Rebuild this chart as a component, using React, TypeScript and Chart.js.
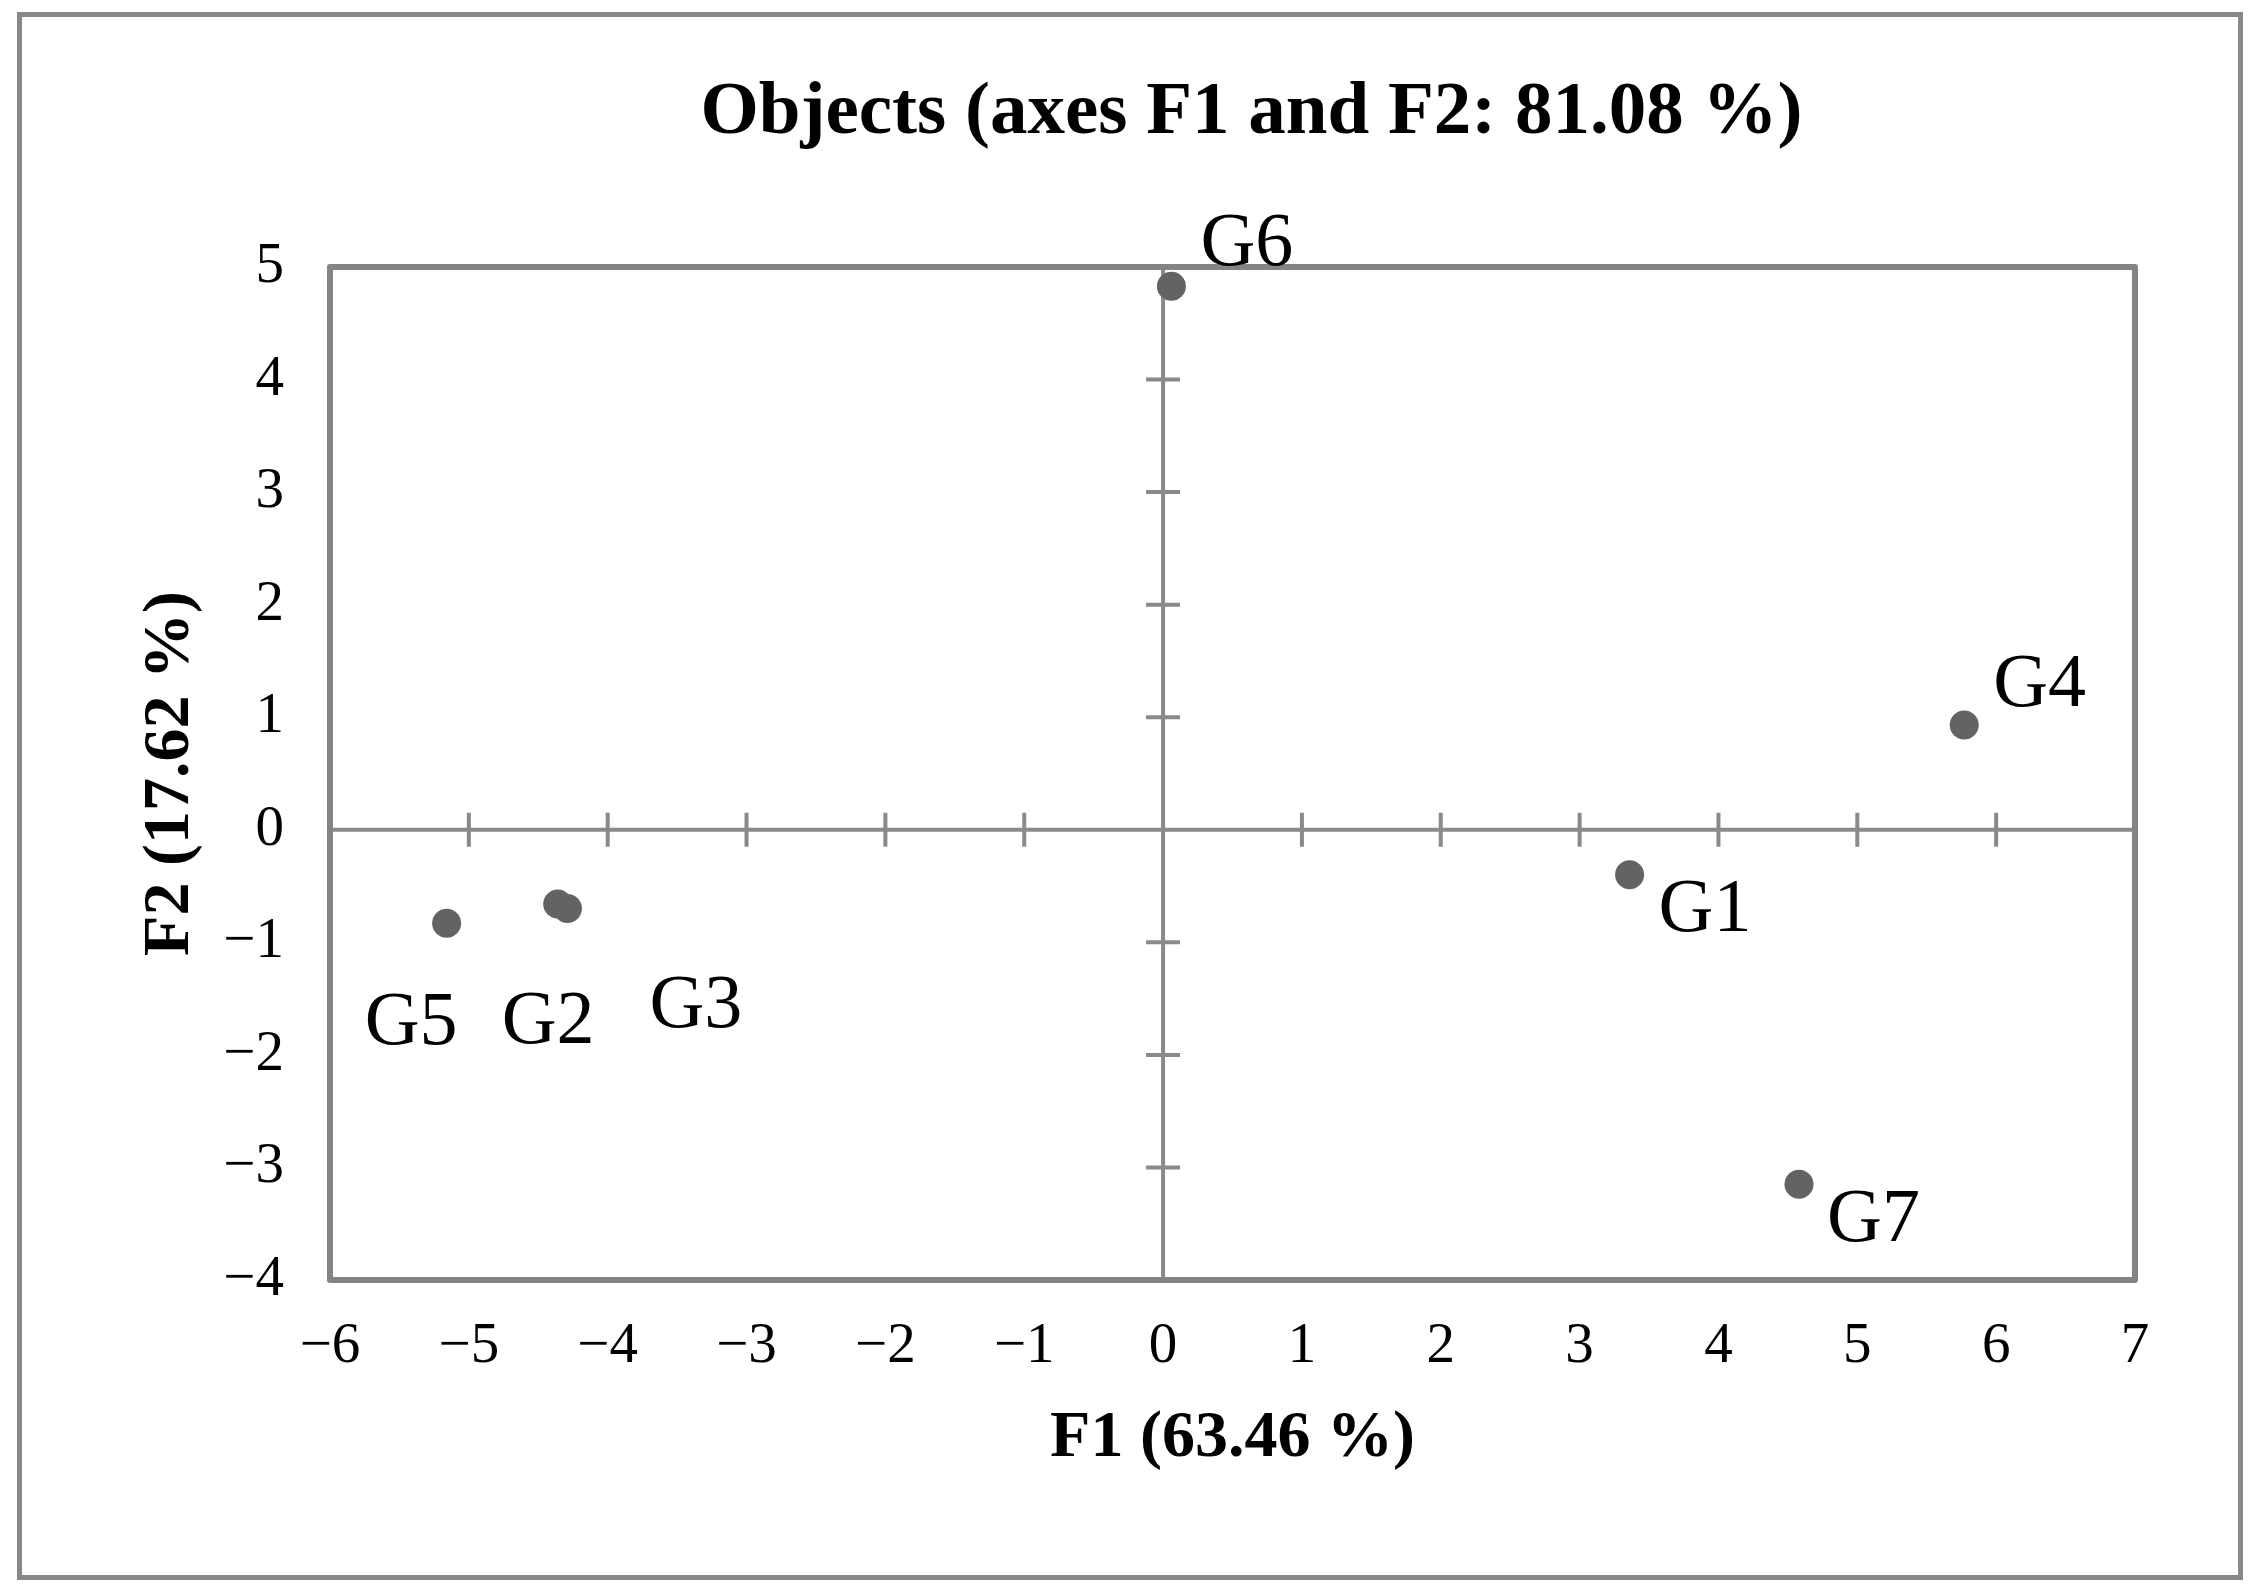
import React, { useEffect, useRef } from 'react';
import { Chart, registerables } from 'chart.js';

Chart.register(...registerables);

// ---- Data ----
const pointLabels = ['G1', 'G2', 'G3', 'G4', 'G5', 'G6', 'G7'];
const f1Values = [3.36, -4.36, -4.29, 5.77, -5.16, 0.06, 4.58];
const f2Values = [-0.4, -0.66, -0.7, 0.93, -0.83, 4.83, -3.15];
const xTickValues = [-6, -5, -4, -3, -2, -1, 0, 1, 2, 3, 4, 5, 6, 7];
const yTickValues = [-4, -3, -2, -1, 0, 1, 2, 3, 4, 5];
const chartTitle = 'Objects (axes F1 and F2: 81.08 %)';
const xAxisTitle = 'F1 (63.46 %)';
const yAxisTitle = 'F2 (17.62 %)';

const SERIF = "'Liberation Serif', 'Times New Roman', serif";
const W = 2263;
const H = 1594;

const fmtTick = (v: number | string) => {
  const n = Number(v);
  return n < 0 ? '\u2212' + Math.abs(n) : String(n);
};

// label placement relative to each point (text left x, baseline y)
const labelOffsets: Record<string, [number, number]> = {
  G1: [29, 56],
  G2: [-56, 139],
  G3: [82, 118],
  G4: [29, -19],
  G5: [-82, 121],
  G6: [29, -21],
  G7: [28, 57],
};

const TITLE_SHIFT = 19;

const decorPlugin = {
  id: 'decor',
  afterLayout(chart: any) {
    const tb = chart.titleBlock;
    if (tb) {
      tb.left += TITLE_SHIFT;
      tb.right += TITLE_SHIFT;
    }
  },
  beforeDraw(chart: any) {
    const ctx = chart.ctx;
    ctx.save();
    ctx.fillStyle = '#ffffff';
    ctx.fillRect(0, 0, chart.width, chart.height);
    ctx.strokeStyle = '#888888';
    ctx.lineWidth = 5;
    ctx.strokeRect(19.5, 14.5, 2221, 1563);
    ctx.restore();
  },
  beforeDatasetsDraw(chart: any) {
    const ctx = chart.ctx;
    const { left, right, top, bottom } = chart.chartArea;
    const xs = chart.scales.x;
    const ys = chart.scales.y;
    const x0 = xs.getPixelForValue(0);
    const y0 = ys.getPixelForValue(0);
    ctx.save();
    ctx.strokeStyle = '#8a8a8a';
    ctx.lineWidth = 4;
    ctx.lineCap = 'butt';
    ctx.beginPath();
    ctx.moveTo(left, y0);
    ctx.lineTo(right, y0);
    ctx.moveTo(x0, top);
    ctx.lineTo(x0, bottom);
    // tick marks on the zero lines
    xTickValues.forEach((v) => {
      if (v === 0 || v === xTickValues[0] || v === xTickValues[xTickValues.length - 1]) return;
      const px = xs.getPixelForValue(v);
      ctx.moveTo(px, y0 - 17);
      ctx.lineTo(px, y0 + 17);
    });
    yTickValues.forEach((v) => {
      if (v === 0 || v === yTickValues[0] || v === yTickValues[yTickValues.length - 1]) return;
      const py = ys.getPixelForValue(v);
      ctx.moveTo(x0 - 17, py);
      ctx.lineTo(x0 + 17, py);
    });
    ctx.stroke();
    // plot border
    ctx.strokeStyle = '#848484';
    ctx.lineWidth = 6;
    ctx.lineJoin = 'round';
    ctx.strokeRect(left, top, right - left, bottom - top);
    ctx.restore();
  },
  afterDatasetsDraw(chart: any) {
    const ctx = chart.ctx;
    const meta = chart.getDatasetMeta(0);
    ctx.save();
    ctx.font = `76px ${SERIF}`;
    ctx.fillStyle = '#000000';
    ctx.textAlign = 'left';
    ctx.textBaseline = 'alphabetic';
    meta.data.forEach((pt: any, i: number) => {
      const name = pointLabels[i];
      const off = labelOffsets[name] || [20, -20];
      ctx.fillText(name, pt.x + off[0], pt.y + off[1]);
    });
    ctx.restore();
  },
};

export default function App() {
  const canvasRef = useRef<HTMLCanvasElement | null>(null);

  useEffect(() => {
    const canvas = canvasRef.current;
    if (!canvas) return;
    const chart = new Chart(canvas, {
      type: 'scatter',
      data: {
        datasets: [
          {
            label: 'Objects',
            data: f1Values.map((x, i) => ({ x, y: f2Values[i] })),
            pointRadius: 14.5,
            pointHoverRadius: 14.5,
            backgroundColor: '#636363',
            borderWidth: 0,
            clip: false,
          } as any,
        ],
      },
      options: {
        animation: false,
        responsive: false,
        devicePixelRatio: 1,
        layout: { padding: { left: 0, top: 0, right: 128, bottom: 0 } },
        plugins: {
          legend: { display: false },
          tooltip: { enabled: false },
          title: {
            display: true,
            text: chartTitle,
            fullSize: false,
            color: '#000000',
            font: { family: SERIF, size: 75, weight: 'bold' },
            padding: { top: 69, bottom: 108 },
          },
        },
        scales: {
          x: {
            type: 'linear',
            min: xTickValues[0],
            max: xTickValues[xTickValues.length - 1],
            afterBuildTicks: (s: any) => {
              s.ticks = xTickValues.map((v) => ({ value: v }));
            },
            afterFit: (s: any) => {
              s.height = H - 1280;
            },
            grid: { display: false, drawTicks: false },
            border: { display: false },
            ticks: {
              callback: fmtTick,
              color: '#000000',
              font: { family: SERIF, size: 57 },
              padding: 33,
              maxRotation: 0,
              autoSkip: false,
            },
            title: {
              display: true,
              text: xAxisTitle,
              color: '#000000',
              font: { family: SERIF, size: 66, weight: 'bold' },
              padding: { top: 0, bottom: 115 },
            },
          },
          y: {
            type: 'linear',
            min: yTickValues[0],
            max: yTickValues[yTickValues.length - 1],
            afterBuildTicks: (s: any) => {
              s.ticks = yTickValues.map((v) => ({ value: v }));
            },
            afterFit: (s: any) => {
              s.width = 330;
            },
            grid: { display: false, drawTicks: false },
            border: { display: false },
            ticks: {
              callback: fmtTick,
              color: '#000000',
              font: { family: SERIF, size: 57 },
              padding: 46,
              autoSkip: false,
            },
            title: {
              display: true,
              text: yAxisTitle,
              color: '#000000',
              font: { family: SERIF, size: 66, weight: 'bold' },
              padding: { top: 131, bottom: 0 },
            },
          },
        },
      } as any,
      plugins: [decorPlugin],
    });
    return () => chart.destroy();
  }, []);

  return (
    <div
      style={{
        position: 'fixed',
        left: 0,
        top: 0,
        width: W,
        height: H,
        background: '#ffffff',
      }}
    >
      <canvas ref={canvasRef} width={W} height={H} style={{ display: 'block', width: W, height: H }} />
    </div>
  );
}
